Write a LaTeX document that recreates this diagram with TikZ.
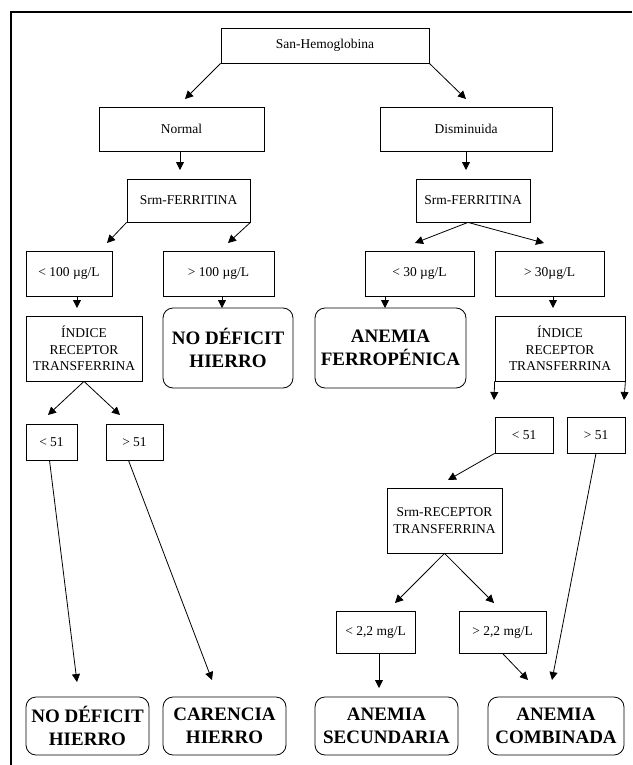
\documentclass[tikz,border=0pt]{standalone}
\usepackage{fontspec}
\setmainfont{Liberation Serif}
\usepackage{tikz}
\usetikzlibrary{arrows.meta}

\begin{document}
\begin{tikzpicture}[
  x=1pt,y=-1pt,
  font=\fontsize{13.5}{16.5}\selectfont,
  box/.style={draw=black,fill=white,line width=0.8pt,align=center,inner sep=1pt},
  endbox/.style={box,rounded corners=10pt,
                 font=\fontsize{19}{23}\selectfont\bfseries},
  ar/.style={-{Triangle[length=8pt,width=8pt]},draw=black,line width=0.8pt}
]
\useasboundingbox (0,0) rectangle (632,765);
\draw[line width=1.6pt] (632,12) -- (11,12) -- (11,765);

% first levels
\node[box,minimum width=208pt,minimum height=35pt] (hb) at (325,45.5) {San-Hemoglobina};
\node[box,minimum width=165pt,minimum height=44pt] (normal) at (181.5,129) {Normal};
\node[box,minimum width=172pt,minimum height=44pt] (dism) at (466,129) {Disminuida};
\node[box,minimum width=123pt,minimum height=43pt] (ferrL) at (188.5,200.5) {Srm-FERRITINA};
\node[box,minimum width=114pt,minimum height=43pt] (ferrR) at (473,200.5) {Srm-FERRITINA};

% ferritin cut-offs
\node[box,minimum width=86pt,minimum height=45pt] (lt100) at (69,273.5) {< 100 µg/L};
\node[box,minimum width=111pt,minimum height=45pt] (gt100) at (218.5,273.5) {> 100 µg/L};
\node[box,minimum width=109pt,minimum height=45pt] (lt30) at (419.5,273.5) {< 30 µg/L};
\node[box,minimum width=109pt,minimum height=45pt] (gt30) at (549.5,273.5) {> 30µg/L};

\node[box,minimum width=116pt,minimum height=65pt] (idxL) at (84,348.5) {ÍNDICE\\RECEPTOR\\TRANSFERRINA};
\node[endbox,minimum width=130pt,minimum height=80pt] (nodefA) at (228,348) {NO DÉFICIT\\HIERRO};
\node[endbox,minimum width=151pt,minimum height=80pt] (ferrop) at (390.5,348) {ANEMIA\\FERROPÉNICA};
\node[box,minimum width=130pt,minimum height=65pt] (idxR) at (560,348.5) {ÍNDICE\\RECEPTOR\\TRANSFERRINA};

% index cut-offs
\node[box,minimum width=51pt,minimum height=36pt] (lt51L) at (51.5,442) {< 51};
\node[box,minimum width=57pt,minimum height=36pt] (gt51L) at (134.5,442) {> 51};
\node[box,minimum width=58pt,minimum height=36pt] (lt51R) at (524,435) {< 51};
\node[box,minimum width=58pt,minimum height=36pt] (gt51R) at (596,435) {> 51};

\node[box,minimum width=115pt,minimum height=65pt] (srtf) at (444.5,520.5) {Srm-RECEPTOR\\TRANSFERRINA};
\node[box,minimum width=79pt,minimum height=42pt] (lt22) at (375.5,632) {< 2,2 mg/L};
\node[box,minimum width=87pt,minimum height=42pt] (gt22) at (502.5,632) {> 2,2 mg/L};

% outcomes
\node[endbox,minimum width=123pt,minimum height=58pt] (nodefB) at (87.5,726) {NO DÉFICIT\\HIERRO};
\node[endbox,minimum width=123pt,minimum height=58pt] (caren) at (224.5,726) {CARENCIA\\HIERRO};
\node[endbox,minimum width=143pt,minimum height=58pt] (secund) at (386.5,726) {ANEMIA\\SECUNDARIA};
\node[endbox,minimum width=136pt,minimum height=58pt] (combin) at (556,726) {ANEMIA\\COMBINADA};

% arrow tips
\coordinate (tNormal) at (185,99);
\coordinate (tDism) at (466,99);
\coordinate (tFerrL) at (180,170);
\coordinate (tFerrR) at (466,170);
\coordinate (tLt100) at (107,243);
\coordinate (tGt100) at (228,243);
\coordinate (tLt30) at (415,243);
\coordinate (tGt30) at (544,243);
\coordinate (tIdxL) at (77,308);
\coordinate (tNodefA) at (222,308);
\coordinate (tFerrop) at (385,308);
\coordinate (tIdxR) at (553,308);
\coordinate (tLt51L) at (48,415);
\coordinate (tGt51L) at (120,415);
\coordinate (tLt51R) at (494,400);
\coordinate (tGt51R) at (624,400);
\coordinate (tNodefB) at (77,682);
\coordinate (tCaren) at (212,680);
\coordinate (tSrtf) at (448,480);
\coordinate (tLt22) at (395,603);
\coordinate (tGt22) at (494,603);
\coordinate (tSecund) at (379,688);
\coordinate (tCombA) at (528,680);
\coordinate (tCombB) at (552,680);

\draw[ar] (hb.south west) -- (tNormal);
\draw[ar] (hb.south east) -- (tDism);
\draw[ar] (normal.south -| tFerrL) -- (tFerrL);
\draw[ar] (dism.south -| tFerrR) -- (tFerrR);
\draw[ar] (ferrL.south west) -- (tLt100);
\draw[ar] (ferrL.south east) -- (tGt100);
\draw[ar] ([xshift=-5pt]ferrR.south) -- (tLt30);
\draw[ar] ([xshift=-5pt]ferrR.south) -- (tGt30);
\draw[ar] (lt100.south -| tIdxL) -- (tIdxL);
\draw[ar] (gt100.south -| tNodefA) -- (tNodefA);
\draw[ar] (lt30.south -| tFerrop) -- (tFerrop);
\draw[ar] (gt30.south -| tIdxR) -- (tIdxR);
\draw[ar] (idxL.south) -- (tLt51L);
\draw[ar] (idxL.south) -- (tGt51L);
\draw[ar] (idxR.south west) -- (tLt51R);
\draw[ar] (idxR.south east) -- (tGt51R);
\draw[ar] ([xshift=-2pt]lt51L.south) -- (tNodefB);
\draw[ar] ([xshift=-6pt]gt51L.south) -- (tCaren);
\draw[ar] (lt51R.south west) -- (tSrtf);
\draw[ar] (srtf.south) -- (tLt22);
\draw[ar] (srtf.south) -- (tGt22);
\draw[ar] (lt22.south -| tSecund) -- (tSecund);
\draw[ar] (gt22.south) -- (tCombA);
\draw[ar] (gt51R.south) -- (tCombB);
\end{tikzpicture}
\end{document}
